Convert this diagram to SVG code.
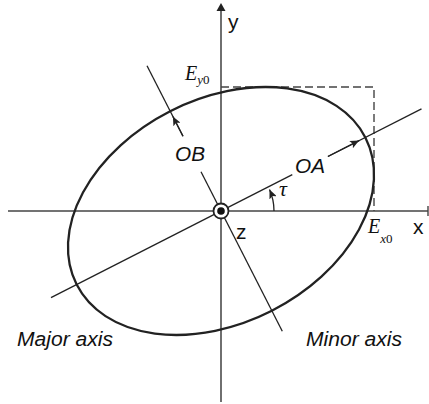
<svg xmlns="http://www.w3.org/2000/svg" width="429" height="404" viewBox="0 0 429 404">
<style>
.ax{stroke:#444;stroke-width:1.4;fill:none}
.ln{stroke:#222;stroke-width:1.3;fill:none}
.el{stroke:#222;stroke-width:2.3;fill:none}
.dash{stroke:#444;stroke-width:1.4;fill:none;stroke-dasharray:8 4}
.sans{font-family:"Liberation Sans",Arial,sans-serif;fill:#111}
.it{font-style:italic}
.ser{font-family:"Liberation Serif","Times New Roman",serif;font-style:italic;fill:#111}
</style>
<defs>
<marker id="ah" markerWidth="10" markerHeight="8" refX="9" refY="4" orient="auto" markerUnits="userSpaceOnUse">
<path d="M0,0 L9,4 L0,8 L2,4 Z" fill="#222"/>
</marker>
</defs>
<rect width="429" height="404" fill="#fff"/>
<g id="axes">
<line class="ax" x1="8" y1="211" x2="428" y2="211"/>
<line class="ax" x1="428" y1="206" x2="428" y2="216"/>
<line class="ln" x1="221" y1="9" x2="221" y2="402"/>
<path d="M221,3 L216.5,11 L225.5,11 Z" fill="#222"/>
</g>
<g id="bounding-box">
<path class="dash" d="M221,87 H374 V211"/>
</g>
<g id="ellipse">
<ellipse class="el" cx="221" cy="211" rx="162" ry="112" transform="rotate(-27 221 211)"/>
</g>
<g id="connectors">
<line class="ln" x1="51" y1="297.7" x2="292.3" y2="174.7"/>
<line class="ln" x1="327.9" y1="156.5" x2="421.5" y2="108.9"/>
<line class="ln" x1="327.9" y1="156.5" x2="359.1" y2="140.6" marker-end="url(#ah)"/>
<line class="ln" x1="282.3" y1="331.3" x2="201" y2="171.8"/>
<line class="ln" x1="183" y1="136.2" x2="147" y2="65.8"/>
<line class="ln" x1="183" y1="136.2" x2="172.9" y2="116.5" marker-end="url(#ah)"/>
<path class="ln" d="M274,211 A53,53 0 0 0 269.5,189.6" marker-end="url(#ah)"/>
</g>
<g id="origin">
<circle cx="221" cy="211" r="7.5" fill="#fff" stroke="#222" stroke-width="1.8"/>
<circle cx="221" cy="211" r="3.8" fill="#111"/>
</g>
<g id="labels">
<text class="sans" x="228" y="29" font-size="21">y</text>
<text class="sans" x="413" y="234" font-size="21">x</text>
<text class="sans" x="236" y="239" font-size="21">z</text>
<text class="sans it" x="295" y="173" font-size="19.5" textLength="30" lengthAdjust="spacingAndGlyphs">OA</text>
<text class="sans it" x="175" y="161" font-size="19.5" textLength="30" lengthAdjust="spacingAndGlyphs">OB</text>
<text class="ser" x="279" y="196" font-size="22">τ</text>
<text class="sans it" x="17" y="346" font-size="20" textLength="96" lengthAdjust="spacingAndGlyphs">Major axis</text>
<text class="sans it" x="306" y="346" font-size="20" textLength="96" lengthAdjust="spacingAndGlyphs">Minor axis</text>
<text class="ser" x="185" y="80" font-size="20">E<tspan font-size="13" dy="4">y</tspan><tspan font-size="13" font-style="normal">0</tspan></text>
<text class="ser" x="368" y="233" font-size="20">E<tspan font-size="13" dy="10">x</tspan><tspan font-size="13" font-style="normal">0</tspan></text>
</g>
</svg>
